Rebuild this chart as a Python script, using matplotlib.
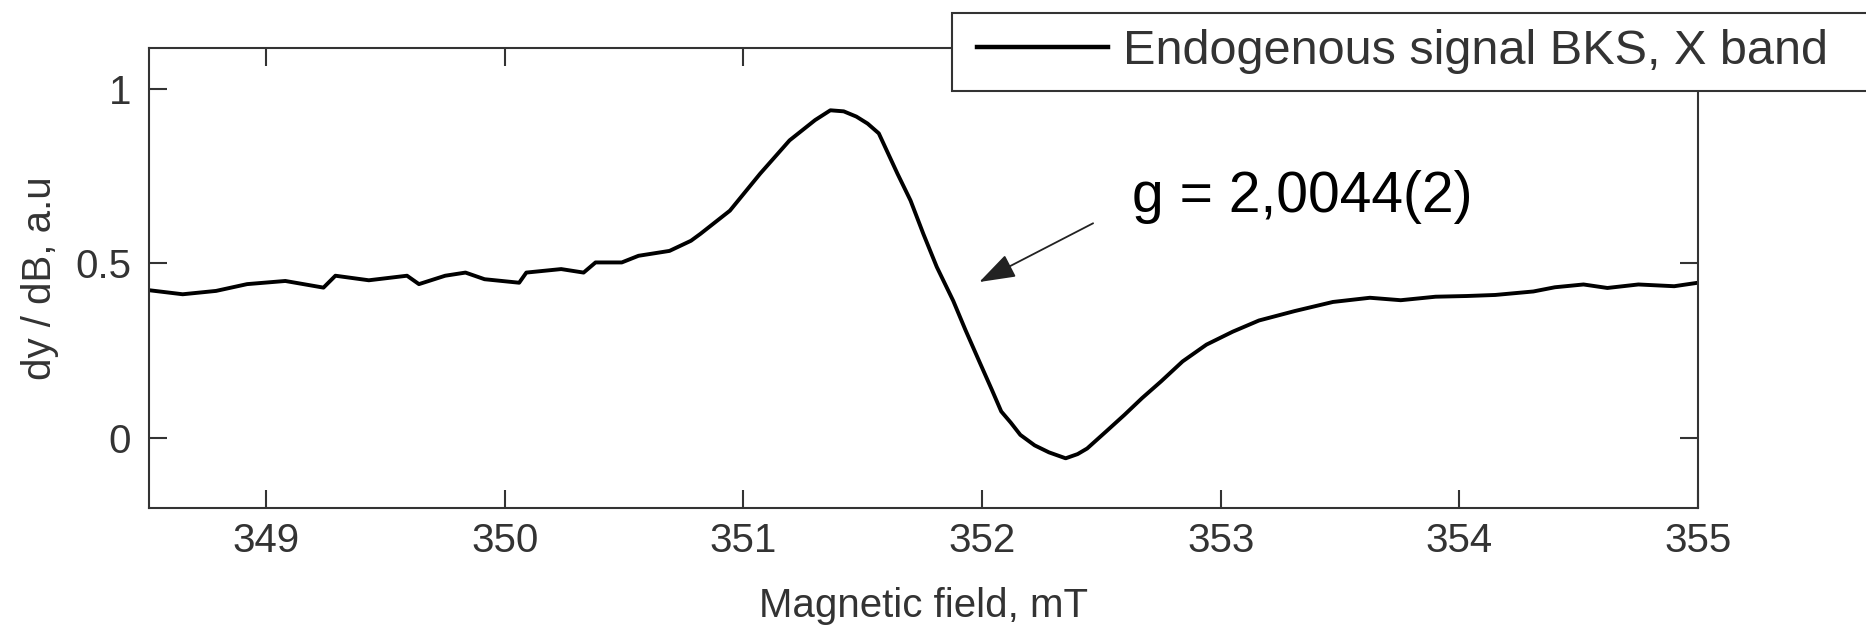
import matplotlib
matplotlib.use("Agg")
import matplotlib.pyplot as plt
from matplotlib.patches import Rectangle

# EPR spectrum (first derivative)
field_mT = [348.51, 348.65, 348.79, 348.92, 349.08, 349.24, 349.29, 349.43, 349.59, 349.64,
            349.75, 349.835, 349.915, 350.06, 350.09, 350.236, 350.33, 350.38, 350.49, 350.56,
            350.69, 350.78, 350.82, 350.943, 351.07, 351.193, 351.30, 351.364, 351.42, 351.473,
            351.52, 351.567, 351.645, 351.70, 351.754, 351.81, 351.879, 351.93, 351.988, 352.04,
            352.08, 352.12, 352.16, 352.22, 352.28, 352.35, 352.40, 352.44, 352.52, 352.596,
            352.67, 352.75, 352.84, 352.94, 353.05, 353.16, 353.31, 353.47, 353.625, 353.754,
            353.90, 354.03, 354.15, 354.31, 354.40, 354.52, 354.62, 354.75, 354.90, 355.0]
signal = [0.4235, 0.412, 0.4216, 0.441, 0.450, 0.431, 0.465, 0.452, 0.465, 0.441,
          0.465, 0.474, 0.455, 0.445, 0.474, 0.484, 0.474, 0.503, 0.503, 0.522,
          0.536, 0.565, 0.585, 0.651, 0.757, 0.852, 0.910, 0.938, 0.935, 0.920,
          0.900, 0.872, 0.757, 0.680, 0.584, 0.490, 0.393, 0.310, 0.220, 0.140,
          0.077, 0.045, 0.010, -0.020, -0.040, -0.057, -0.045, -0.029, 0.020, 0.067,
          0.115, 0.163, 0.220, 0.268, 0.305, 0.337, 0.364, 0.390, 0.402, 0.395,
          0.405, 0.407, 0.410, 0.420, 0.432, 0.440, 0.430, 0.440, 0.435, 0.445]

x_ticks = [349, 350, 351, 352, 353, 354, 355]
y_ticks = [0, 0.5, 1]
y_tick_labels = ['0', '0.5', '1']

legend_label = 'Endogenous signal BKS, X band'
g_label = 'g = 2,0044(2)'
g_text_pos = (352.63, 0.647)
arrow_tip = (351.988, 0.447)
arrow_tail = (352.465, 0.615)

plt.rcParams['font.family'] = ['Liberation Sans', 'DejaVu Sans']

fig = plt.figure(figsize=(18.66, 6.26), dpi=100)
ax = fig.add_axes([0.08, 0.188, 0.83, 0.7347])

line, = ax.plot(field_mT, signal, color='black', linewidth=2.8, label=legend_label)

ax.set_xlim(348.51, 355)
ax.set_ylim(-0.2, 1.115)
ax.set_xticks(x_ticks)
ax.set_yticks(y_ticks)
ax.set_yticklabels(y_tick_labels)

ax.tick_params(axis='both', direction='in', length=13, width=1.5, color='#333333',
               labelsize=29, labelcolor='#333333', top=True, right=True)
ax.tick_params(axis='x', pad=10)
ax.tick_params(axis='y', pad=13)
for s in ax.spines.values():
    s.set_linewidth(1.5)
    s.set_color('#333333')

ax.set_xlabel('Magnetic field, mT', fontsize=29, color='#333333')
ax.set_ylabel('dy / dB, a.u', fontsize=29, color='#333333')
ax.xaxis.set_label_coords(0.5, -0.172)
ax.yaxis.set_label_coords(-0.058, 0.5)

# g-factor annotation
ax.text(g_text_pos[0], g_text_pos[1], g_label, fontsize=41, va='baseline', ha='left',
        color='black')
ax.annotate('', xy=arrow_tip, xytext=arrow_tail,
            arrowprops=dict(arrowstyle='-|>,head_length=0.5,head_width=0.17',
                            color='#222222', lw=1.3, mutation_scale=45,
                            shrinkA=0, shrinkB=0))

# legend box runs off the right edge of the figure, as in the original
frame = Rectangle((951.7 / 1866, 1 - 90.7 / 626), 0.55, 77.4 / 626,
                  transform=fig.transFigure, facecolor='white', edgecolor='#333333',
                  linewidth=1.5, zorder=4)
fig.patches.append(frame)
fig.legend(handles=[line], labels=[legend_label], loc='center left',
           bbox_to_anchor=(976.7 / 1866, 1 - 52 / 626), frameon=False,
           borderpad=0, borderaxespad=0, handlelength=2.7, handletextpad=0.3,
           fontsize=35, labelcolor='#333333')
fig.legends[0].set_zorder(5)
fig.legends[0].get_lines()[0].set_linewidth(3.2)

fig.savefig('out.png', dpi=100)
